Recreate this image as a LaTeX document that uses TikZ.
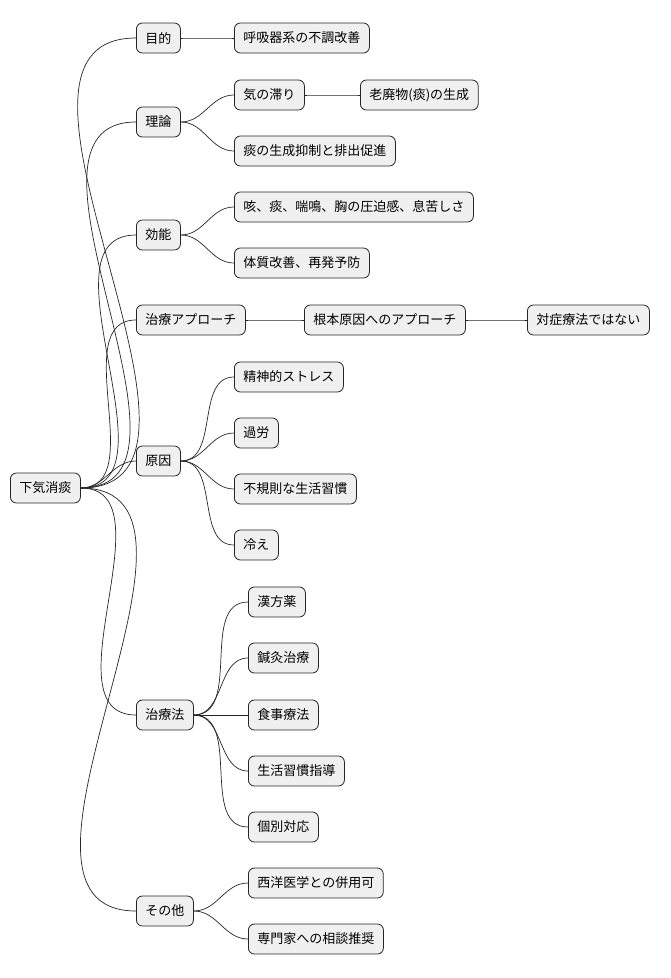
\documentclass[tikz,border=0pt]{standalone}
\usepackage{fontspec}
\setmainfont{Noto Sans CJK JP}
\begin{document}
\begin{tikzpicture}[x=1pt,y=-1pt,
  box/.style={draw=black!85,fill=black!6,rounded corners=6pt,line width=0.8pt,minimum height=30pt,inner xsep=9pt,anchor=west,font=\fontsize{13}{15}\selectfont},
  ln/.style={draw=black!85,line width=0.7pt}]
\useasboundingbox (0,0) rectangle (670,978);
\node[box] (r) at (10,488) {下気消痰};
\node[box] (a) at (136,38) {目的};
\node[box] (b) at (136,122) {理論};
\node[box] (c) at (136,235) {効能};
\node[box] (d) at (136,320) {治療アプローチ};
\node[box] (e) at (136,461) {原因};
\node[box] (f) at (136,715) {治療法};
\node[box] (g) at (136,911) {その他};
\node[box] (a1) at (234,38) {呼吸器系の不調改善};
\node[box] (b1) at (234,95) {気の滞り};
\node[box] (b11) at (360,95) {老廃物(痰)の生成};
\node[box] (b2) at (234,151) {痰の生成抑制と排出促進};
\node[box] (c1) at (234,207) {咳、痰、喘鳴、胸の圧迫感、息苦しさ};
\node[box] (c2) at (234,263) {体質改善、再発予防};
\node[box] (d1) at (304,320) {根本原因へのアプローチ};
\node[box] (d11) at (527,320) {対症療法ではない};
\node[box] (e1) at (234,377) {精神的ストレス};
\node[box] (e2) at (234,433) {過労};
\node[box] (e3) at (234,489) {不規則な生活習慣};
\node[box] (e4) at (234,545) {冷え};
\node[box] (f1) at (248,602) {漢方薬};
\node[box] (f2) at (248,658) {鍼灸治療};
\node[box] (f3) at (248,715) {食事療法};
\node[box] (f4) at (248,771) {生活習慣指導};
\node[box] (f5) at (248,827) {個別対応};
\node[box] (g1) at (248,883) {西洋医学との併用可};
\node[box] (g2) at (248,939) {専門家への相談推奨};
\foreach \p/\c in {r/a,r/b,r/c,r/d,r/e,r/f,r/g,a/a1,b/b1,b/b2,b1/b11,c/c1,c/c2,d/d1,d1/d11,e/e1,e/e2,e/e3,e/e4,f/f1,f/f2,f/f3,f/f4,f/f5,g/g1,g/g2}
  \draw[ln] (\p.east) to[out=0,in=180] (\c.west);
\end{tikzpicture}
\end{document}
